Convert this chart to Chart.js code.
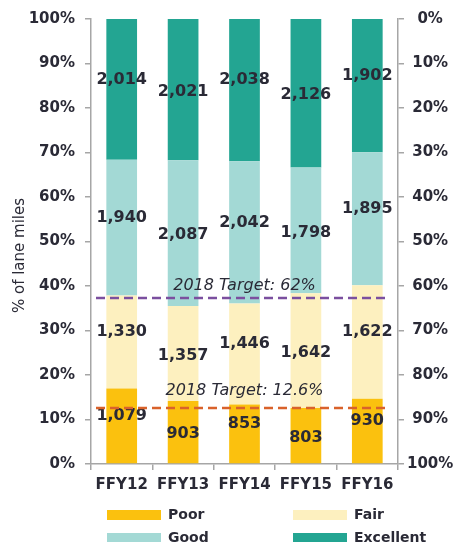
<!DOCTYPE html>
<html>
<head>
<meta charset="utf-8">
<script src="https://cdn.jsdelivr.net/npm/chart.js@4.4.1/dist/chart.umd.min.js"></script>
<style>
  html, body { margin: 0; padding: 0; background: #fff; }
  #wrap { width: 454px; height: 542px; }
</style>
</head>
<body>
<div id="wrap"><canvas id="laneChart" width="454" height="542"></canvas></div>
<script>
// lane miles by condition
const years = ['FFY12', 'FFY13', 'FFY14', 'FFY15', 'FFY16'];
const poorMiles = [1079, 903, 853, 803, 930];
const fairMiles = [1330, 1357, 1446, 1642, 1622];
const goodMiles = [1940, 2087, 2042, 1798, 1895];
const excellentMiles = [2014, 2021, 2038, 2126, 1902];

// dashed target lines (value on the left % axis)
const targetValues = [37.3, 12.6];
const targetLabels = ['2018 Target: 62%', '2018 Target: 12.6%'];
const targetColors = ['#7b4f9f', '#d9622b'];

const FONT = '"DejaVu Sans", sans-serif';
const AXIS_GREY = '#a6a6a6';
const TEXT = '#2a2a36';

const totals = years.map((y, i) => poorMiles[i] + fairMiles[i] + goodMiles[i] + excellentMiles[i]);
const toPct = arr => arr.map((v, i) => v / totals[i] * 100);

// labels on each segment, alternating bars sit a bit higher
const valueLabels = {
    id: 'valueLabels',
    afterDatasetsDraw(chart) {
        const ctx = chart.ctx;
        ctx.save();
        ctx.font = 'bold 16px ' + FONT;
        ctx.fillStyle = TEXT;
        ctx.textAlign = 'center';
        ctx.textBaseline = 'middle';
        chart.data.datasets.forEach((ds, di) => {
            chart.getDatasetMeta(di).data.forEach((bar, i) => {
                const lift = (i % 2 === 0) ? -10 : 2;
                ctx.fillText(ds.miles[i].toLocaleString('en-US'), bar.x, (bar.y + bar.base) / 2 + lift);
            });
        });
        ctx.restore();
    }
};

const targetLines = {
    id: 'targetLines',
    afterDatasetsDraw(chart) {
        const ctx = chart.ctx;
        const area = chart.chartArea;
        const yScale = chart.scales.y;
        const gaps = [4, 9];
        ctx.save();
        targetValues.forEach((t, i) => {
            const y = yScale.getPixelForValue(t);
            ctx.strokeStyle = targetColors[i];
            ctx.lineWidth = 2.5;
            ctx.setLineDash([9, 5]);
            ctx.beginPath();
            ctx.moveTo(area.left + 5, y);
            ctx.lineTo(area.right - 10, y);
            ctx.stroke();

            ctx.setLineDash([]);
            ctx.font = 'italic 16px ' + FONT;
            ctx.fillStyle = TEXT;
            ctx.textAlign = 'center';
            ctx.textBaseline = 'bottom';
            ctx.fillText(targetLabels[i], (area.left + area.right) / 2, y - gaps[i]);
        });
        ctx.restore();
    }
};

// y title and two-column legend
const extraText = {
    id: 'extraText',
    afterDraw(chart) {
        const ctx = chart.ctx;
        const area = chart.chartArea;
        ctx.save();

        ctx.translate(20, (area.top + area.bottom) / 2 + 14);
        ctx.rotate(-Math.PI / 2);
        ctx.font = '15px ' + FONT;
        ctx.fillStyle = TEXT;
        ctx.textAlign = 'center';
        ctx.textBaseline = 'middle';
        ctx.fillText('% of lane miles', 0, 0);
        ctx.setTransform(1, 0, 0, 1, 0, 0);

        const colX = [area.left + 16, area.left + 202];
        const rowY = [area.bottom + 51, area.bottom + 74];
        ctx.font = 'bold 14px ' + FONT;
        ctx.textBaseline = 'middle';
        chart.data.datasets.forEach((ds, i) => {
            const x = colX[i % 2];
            const y = rowY[Math.floor(i / 2)];
            ctx.fillStyle = ds.backgroundColor;
            ctx.fillRect(x, y - 5, 54, 10);
            ctx.fillStyle = TEXT;
            ctx.textAlign = 'left';
            ctx.fillText(ds.label, x + 61, y);
        });
        ctx.restore();
    }
};

const chartData = {
    labels: years,
    datasets: [
        { label: 'Poor', data: toPct(poorMiles), miles: poorMiles, backgroundColor: '#fbc10e' },
        { label: 'Fair', data: toPct(fairMiles), miles: fairMiles, backgroundColor: '#fdf0bf' },
        { label: 'Good', data: toPct(goodMiles), miles: goodMiles, backgroundColor: '#a3d9d5' },
        { label: 'Excellent', data: toPct(excellentMiles), miles: excellentMiles, backgroundColor: '#23a592' }
    ]
};

const config = {
    type: 'bar',
    data: chartData,
    options: {
        responsive: false,
        animation: false,
        devicePixelRatio: 1,
        layout: { padding: { top: 17, right: 0, left: 0, bottom: 0 } },
        datasets: {
            bar: { barPercentage: 0.5, categoryPercentage: 1.0, borderWidth: 0 }
        },
        plugins: {
            legend: { display: false },
            tooltip: { enabled: false },
            title: { display: false }
        },
        scales: {
            x: {
                stacked: true,
                afterFit(scale) { scale.height = 78; },
                border: { display: true, color: AXIS_GREY, width: 1.5 },
                grid: { display: true, drawOnChartArea: false, drawTicks: true, tickLength: 6, color: AXIS_GREY, lineWidth: 1.5, offset: true },
                ticks: { color: TEXT, font: { family: FONT, size: 15, weight: 'bold' }, padding: 6 }
            },
            y: {
                stacked: true,
                position: 'left',
                min: 0,
                max: 100,
                afterFit(scale) { scale.width = 91; },
                border: { display: true, color: AXIS_GREY, width: 1.5 },
                grid: { display: true, drawOnChartArea: false, tickLength: 6, color: AXIS_GREY, lineWidth: 1.5 },
                ticks: {
                    stepSize: 10,
                    color: TEXT,
                    font: { family: FONT, size: 15, weight: 'bold' },
                    padding: 10,
                    callback: v => v + '%'
                }
            },
            y2: {
                position: 'right',
                reverse: true,
                min: 0,
                max: 100,
                afterFit(scale) { scale.width = 56; },
                border: { display: true, color: AXIS_GREY, width: 1.5 },
                grid: { display: true, drawOnChartArea: false, tickLength: 6, color: AXIS_GREY, lineWidth: 1.5 },
                ticks: {
                    stepSize: 10,
                    color: TEXT,
                    font: { family: FONT, size: 15, weight: 'bold' },
                    padding: 3,
                    crossAlign: 'center',
                    callback: v => v + '%'
                }
            }
        }
    },
    plugins: [valueLabels, targetLines, extraText]
};

const ctx = document.getElementById('laneChart').getContext('2d');
const laneChart = new Chart(ctx, config);
</script>
</body>
</html>
